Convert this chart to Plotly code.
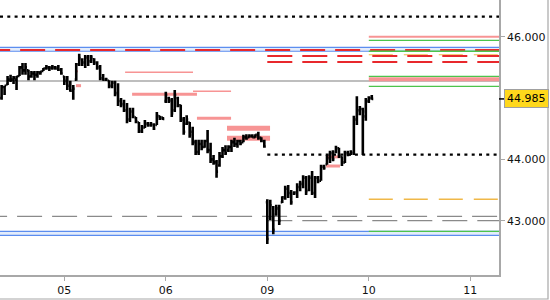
import plotly.graph_objects as go

# ---------------- data ----------------
DAY_POS = [0, 1, 2, 3, 4]
DAY_LABELS = ["05", "06", "09", "10", "11"]
BARS_PER_DAY = 34
# (day position, first slot in session, number of bars)
SESSIONS = [(-1, 13, 21), (0, 0, 34), (1, 0, 34), (2, 0, 34), (3, 0, 2)]

high = [
    45.21, 45.20, 45.36, 45.38, 45.36, 45.36, 45.52, 45.57, 45.57, 45.46,
    45.44, 45.44, 45.44, 45.44, 45.49, 45.54, 45.52, 45.54, 45.52, 45.54,
    45.49, 45.36, 45.36, 45.28, 45.21, 45.57, 45.72, 45.65, 45.70, 45.70,
    45.70, 45.65, 45.60, 45.54, 45.39, 45.33, 45.29, 45.28, 45.28, 45.24,
    45.00, 44.97, 44.92, 44.84, 44.84, 44.69, 44.61, 44.56, 44.64, 44.61,
    44.61, 44.59, 44.77, 44.71, 44.69, 45.10, 45.02, 45.00, 45.13, 45.02,
    44.89, 44.69, 44.72, 44.61, 44.53, 44.32, 44.32, 44.32, 44.32, 44.48,
    44.27, 44.07, 43.99, 44.12, 44.20, 44.23, 44.23, 44.32, 44.35, 44.32,
    44.32, 44.40, 44.41, 44.41, 44.41, 44.41, 44.45, 44.36, 44.32, 43.35,
    43.34, 43.24, 43.26, 43.26, 43.40, 43.57, 43.58, 43.50, 43.48, 43.61,
    43.65, 43.74, 43.73, 43.74, 43.81, 43.73, 43.73, 43.91, 43.91, 44.07,
    44.14, 44.15, 44.22, 44.19, 44.05, 44.14, 44.14, 44.15, 44.71, 45.03,
    44.87, 44.84, 45.00, 45.03, 45.05]
low = [
    44.97, 45.05, 45.21, 45.26, 45.23, 45.13, 45.36, 45.38, 45.38, 45.29,
    45.33, 45.29, 45.33, 45.38, 45.44, 45.46, 45.44, 45.46, 45.46, 45.44,
    45.38, 45.21, 45.13, 45.10, 44.97, 45.28, 45.52, 45.52, 45.49, 45.52,
    45.57, 45.54, 45.46, 45.29, 45.28, 45.28, 45.16, 45.16, 45.03, 44.87,
    44.85, 44.77, 44.59, 44.61, 44.67, 44.59, 44.43, 44.43, 44.51, 44.53,
    44.53, 44.48, 44.56, 44.64, 44.64, 44.92, 44.92, 44.69, 44.77, 44.85,
    44.61, 44.40, 44.56, 44.35, 44.23, 44.07, 44.07, 44.15, 44.19, 44.10,
    43.94, 43.91, 43.70, 43.88, 44.02, 44.07, 44.12, 44.12, 44.20, 44.19,
    44.23, 44.28, 44.32, 44.35, 44.35, 44.35, 44.32, 44.28, 44.19, 42.62,
    43.01, 42.78, 43.08, 42.93, 43.29, 43.34, 43.37, 43.26, 43.42, 43.37,
    43.48, 43.53, 43.42, 43.48, 43.42, 43.37, 43.61, 43.65, 43.83, 43.91,
    43.94, 43.97, 44.10, 44.02, 43.89, 43.94, 44.05, 44.07, 44.07, 44.56,
    44.72, 44.07, 44.63, 44.92, 44.97]
open_ = [
    45.00, 45.18, 45.22, 45.30, 45.30, 45.30, 45.36, 45.50, 45.45, 45.45,
    45.35, 45.40, 45.38, 45.40, 45.44, 45.48, 45.50, 45.49, 45.50, 45.48,
    45.46, 45.35, 45.28, 45.20, 45.12, 45.30, 45.55, 45.62, 45.58, 45.66,
    45.60, 45.63, 45.58, 45.50, 45.32, 45.30, 45.28, 45.20, 45.25, 45.08,
    44.95, 44.90, 44.80, 44.65, 44.78, 44.68, 44.60, 44.46, 44.52, 44.58,
    44.56, 44.56, 44.56, 44.70, 44.68, 44.95, 45.00, 44.96, 44.80, 45.00,
    44.88, 44.65, 44.58, 44.60, 44.45, 44.28, 44.12, 44.25, 44.20, 44.30,
    44.15, 44.00, 43.95, 43.90, 44.05, 44.15, 44.15, 44.20, 44.28, 44.25,
    44.30, 44.28, 44.36, 44.36, 44.38, 44.36, 44.40, 44.35, 44.30, 43.30,
    43.05, 43.20, 43.10, 43.20, 43.30, 43.38, 43.52, 43.45, 43.44, 43.46,
    43.55, 43.60, 43.70, 43.50, 43.70, 43.45, 43.70, 43.65, 43.88, 43.92,
    44.02, 44.10, 44.12, 44.18, 44.04, 43.95, 44.10, 44.08, 44.10, 44.65,
    44.80, 44.82, 44.70, 44.95, 45.00]
close = [
    45.18, 45.20, 45.30, 45.30, 45.33, 45.35, 45.50, 45.45, 45.50, 45.35,
    45.40, 45.38, 45.42, 45.43, 45.48, 45.50, 45.49, 45.50, 45.48, 45.46,
    45.40, 45.28, 45.20, 45.12, 45.15, 45.55, 45.65, 45.58, 45.66, 45.60,
    45.66, 45.58, 45.50, 45.32, 45.30, 45.30, 45.20, 45.25, 45.08, 44.95,
    44.90, 44.80, 44.65, 44.78, 44.70, 44.62, 44.46, 44.52, 44.58, 44.56,
    44.58, 44.50, 44.72, 44.68, 44.66, 45.05, 44.96, 44.75, 45.05, 44.88,
    44.65, 44.45, 44.65, 44.40, 44.28, 44.12, 44.25, 44.20, 44.30, 44.15,
    44.00, 43.95, 43.80, 44.05, 44.15, 44.10, 44.20, 44.28, 44.25, 44.30,
    44.26, 44.36, 44.34, 44.38, 44.36, 44.40, 44.35, 44.30, 44.21, 42.70,
    43.25, 42.85, 43.20, 43.00, 43.38, 43.52, 43.45, 43.30, 43.46, 43.55,
    43.60, 43.70, 43.48, 43.70, 43.45, 43.70, 43.65, 43.88, 43.86, 44.02,
    44.10, 44.00, 44.18, 44.05, 43.95, 44.10, 44.08, 44.12, 44.65, 44.80,
    44.82, 44.78, 44.95, 45.00, 44.985]
LAST_PRICE = 44.985

Y_TICKS = [43.0, 44.0, 46.0]

# level lines: value, start time, end time (None = chart edge)
dotted_levels = [46.326, 44.076]
dotted_start = [None, 2.0]
band_top = [45.827, 42.826]
band_bottom = [45.762, 42.761]
red_levels = [45.783, 45.685, 45.587]
red_start = [-0.78, 2.0, 2.0]
orange_levels = [45.705, 43.348]
orange_start = [3.0, 3.0]
green_levels = [45.941, 45.762, 45.354, 45.191, 42.826]
green_start = [3.0, 3.0, 3.0, 3.0, 3.0]
gray_solid_levels = [45.277]
gray_dash_levels = [43.071, 43.000]
gray_dash_start = [-0.81, 2.0]
salmon_levels = [46.000, 45.305, 45.419, 45.109, 45.060, 44.669, 44.506, 44.343,
                 43.891, 44.040, 45.435, 45.201]
salmon_start = [3.0, 3.0, 0.599, 1.268, 0.668, 1.307, 1.603, 1.603, 2.579, 2.579, 0.105, 0.115]
salmon_end = [None, None, 1.268, 1.643, 1.307, 1.643, 2.027, 2.027, 2.716, 2.716, 0.135, 0.165]

# ---------------- styles ----------------
X_RANGE = [-0.6335, 4.2828]
Y_RANGE = [42.114, 46.598]
salmon_widths = [2, 4, 1.5, 1.5, 3, 3, 5, 5, 3, 3, 2, 3]
orange_widths = [1, 1.5]
SALMON = "#f79494"
RED = "#e8282c"
BLUE = "#5b8def"
BAND_FILL = "#e3ecfb"
GREEN = "#4cc44c"
ORANGE = "#f0b848"
GRAY_D = "#8a8a8a"
GRAY_S = "#a8a8a8"
AXIS = "#a8a8a8"
FONT = "DejaVu Sans"

# time of each bar
t = []
for day, first, n in SESSIONS:
    for k in range(n):
        t.append(day + (first + k) / BARS_PER_DAY)

fig = go.Figure()
fig.add_trace(go.Ohlc(
    x=t, open=open_, high=high, low=low, close=close,
    increasing=dict(line=dict(color="black", width=2.6)),
    decreasing=dict(line=dict(color="black", width=2.6)),
    tickwidth=0.5, hoverinfo="skip", showlegend=False))

shapes = []


def hline(y, x0, x1, color, width, dash="solid"):
    shapes.append(dict(type="line", xref="x", yref="y",
                       x0=X_RANGE[0] if x0 is None else x0,
                       x1=X_RANGE[1] if x1 is None else x1,
                       y0=y, y1=y, layer="below",
                       line=dict(color=color, width=width, dash=dash)))


for top, bot in zip(band_top, band_bottom):
    shapes.append(dict(type="rect", xref="x", yref="y", x0=X_RANGE[0], x1=X_RANGE[1],
                       y0=bot, y1=top, fillcolor=BAND_FILL, line=dict(width=0), layer="below"))
    hline(top, None, None, BLUE, 1.2)
    hline(bot, None, None, BLUE, 1.2)

for y in gray_solid_levels:
    hline(y, None, None, GRAY_S, 1.3)
for y, x0 in zip(gray_dash_levels, gray_dash_start):
    hline(y, x0, None, GRAY_D, 1.3, "25px,10px")
for y, x0, w in zip(orange_levels, orange_start, orange_widths):
    hline(y, x0, None, ORANGE, w, "24px,11px")
for y, x0 in zip(red_levels, red_start):
    hline(y, x0, None, RED, 2, "25px,10px")
for y, x0 in zip(green_levels, green_start):
    hline(y, x0, None, GREEN, 1.3)
for y, x0, x1, w in zip(salmon_levels, salmon_start, salmon_end, salmon_widths):
    hline(y, x0, x1, SALMON, w)
for y, x0 in zip(dotted_levels, dotted_start):
    hline(y, x0, None, "black", 2.2, "3px,4.3px")

# last price marker tick
shapes.append(dict(type="line", xref="paper", yref="y", x0=1.0, x1=1.01,
                   y0=LAST_PRICE, y1=LAST_PRICE, line=dict(color="black", width=1.5)))
# outer frame
shapes.append(dict(type="rect", xref="paper", yref="paper", x0=-0.02, x1=1.0982,
                   y0=-0.0873, y1=1.02, line=dict(color=AXIS, width=1.2),
                   fillcolor="rgba(0,0,0,0)", layer="below"))

fig.update_layout(
    width=550, height=300,
    margin=dict(l=0, r=51, t=0, b=25),
    paper_bgcolor="white", plot_bgcolor="white",
    shapes=shapes,
    showlegend=False,
    font=dict(family=FONT, size=11, color="#111111"),
    xaxis=dict(range=X_RANGE, tickvals=DAY_POS, ticktext=DAY_LABELS,
               showgrid=False, zeroline=False, rangeslider=dict(visible=False),
               showline=True, linecolor=AXIS, linewidth=1.5,
               ticks="outside", ticklen=4, tickcolor=AXIS, tickwidth=1,
               tickfont=dict(family=FONT, size=11, color="#111111")),
    yaxis=dict(range=Y_RANGE, side="right", tickvals=Y_TICKS,
               tickformat=".3f", showgrid=False, zeroline=False,
               showline=True, linecolor=AXIS, linewidth=1.5,
               ticks="outside", ticklen=4, tickcolor=AXIS, tickwidth=1,
               tickfont=dict(family=FONT, size=11, color="#111111")),
    annotations=[dict(xref="paper", yref="y", x=1.0, y=LAST_PRICE,
                      xanchor="left", yanchor="middle", xshift=5,
                      text=f"{LAST_PRICE:.3f}", showarrow=False,
                      font=dict(family=FONT, size=11, color="black"),
                      bgcolor="#ffd81c", bordercolor="#a0a0a0", borderwidth=1,
                      borderpad=2)],
)

fig.write_html("out.html")
